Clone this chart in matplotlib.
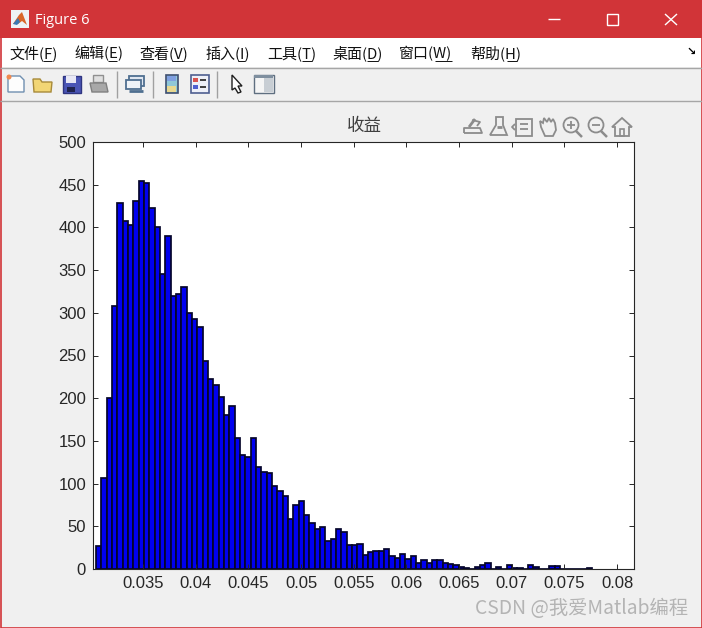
#!/usr/bin/env python3
# -*- coding: utf-8 -*-
"""
Histogram of returns, drawn inside a MATLAB style figure window.
"""
import numpy as np
import matplotlib
matplotlib.use('Agg')
import matplotlib.pyplot as plt
from matplotlib.patches import Rectangle, Polygon, Circle

W, H = 702, 628
CJK = ['Noto Sans CJK SC', 'DejaVu Sans']

##### DATA #####
counts = [27, 106, 200, 308, 428, 408, 403, 431, 454, 452,
          423, 400, 346, 390, 320, 322, 330, 300, 293, 283,
          244, 223, 215, 201, 180, 191, 153, 133, 131, 153,
          120, 113, 112, 97, 91, 85, 59, 75, 80, 63,
          54, 47, 49, 33, 35, 47, 43, 28, 28, 29,
          16, 20, 21, 21, 24, 15, 13, 17, 12, 15,
          7, 10, 7, 10, 10, 7, 6, 5, 2, 1,
          0, 2, 5, 7, 0, 2, 0, 5, 1, 1,
          0, 5, 2, 0, 0, 3, 3, 0, 0, 0,
          0, 0, 1]
bin_start = 0.03054
bin_width = 0.000506
xticks = [0.035, 0.04, 0.045, 0.05, 0.055, 0.06, 0.065, 0.07, 0.075, 0.08]
xticklabels = ['0.035', '0.04', '0.045', '0.05', '0.055', '0.06', '0.065', '0.07', '0.075', '0.08']
yticks = [0, 50, 100, 150, 200, 250, 300, 350, 400, 450, 500]
menu_items = [('文件(F)', 9, 43, 52), ('编辑(E)', 74, 108, 117), ('查看(V)', 139, 172, 183), ('插入(I)', 206, 238, 245),
              ('工具(T)', 267, 302, 312), ('桌面(D)', 332, 367, 378), ('窗口(W)', 399, 435, 452), ('帮助(H)', 470, 507, 517)]
################

fig = plt.figure(figsize=(W/100, H/100), dpi=100, facecolor='#f0f0f0')

# window chrome, coordinates in pixels
ch = fig.add_axes([0, 0, 1, 1], zorder=0)
ch.set_xlim(0, W)
ch.set_ylim(H, 0)
ch.axis('off')

def rect(x, y, w, h, fc='none', ec='none', lw=1.0):
    ch.add_patch(Rectangle((x, y), w, h, facecolor=fc, edgecolor=ec, linewidth=lw))

def line(xs, ys, c='#808080', lw=1.0):
    ch.plot(xs, ys, color=c, linewidth=lw, solid_capstyle='butt')

rect(0, 0, W, 38, fc='#d13438')
rect(0, 38, W, 29, fc='white')
rect(0, 68, W, 32, fc='#f0f0f0')
line([0, W], [67.5, 67.5], '#a6a6a6')
line([0, W], [100.5, 100.5], '#a6a6a6')
rect(0.5, 0.5, W-1, H-1, ec='#d13438', lw=1.2)

# title bar
rect(11, 10, 18, 18, fc='#eef2f6')
ch.add_patch(Polygon([(13, 24), (19, 15), (22, 12), (27, 25), (22, 21), (18, 24)], fc='#d9662b'))
ch.add_patch(Polygon([(13, 24), (18, 18), (20, 22), (17, 25)], fc='#3a78b5'))
ch.text(35, 20, 'Figure 6', color='white', fontsize=10.5, family='Open Sans', va='center')
line([548, 560], [19, 19], 'white')
rect(606.5, 13.5, 11, 11, ec='white')
line([665, 677], [14, 25], 'white')
line([665, 677], [25, 14], 'white')

# menu bar
for label, x, ul_start, ul_end in menu_items:
    ch.text(x, 58, label, fontsize=10.8, family=CJK, va='baseline', color='#111111')
    line([ul_start, ul_end], [61, 61], '#111111', 0.7)
ch.text(691, 52, '↘', fontsize=8, fontweight='bold', family='DejaVu Sans', ha='center', va='center')

# toolbar
for x in [116.5, 152.5, 216.5]:
    line([x, x], [71, 98], '#a0a0a0')
ch.add_patch(Polygon([(8, 76), (20, 76), (24, 80), (24, 92), (8, 92)], fc='#fdfdfd', ec='#6f8fb0', lw=1))
ch.add_patch(Circle((9, 77), 2.5, fc='#f08a50'))
ch.add_patch(Polygon([(33, 79), (40, 79), (42, 82), (52, 82), (51, 92), (34, 92)], fc='#f2d675', ec='#a78a3a', lw=1))
rect(62.5, 75.5, 18, 17, fc='#4a55b5', ec='#2f3580')
rect(66, 76, 10, 7, fc='#e8e8f5')
rect(67, 87, 8, 5, fc='#20244f')
rect(93, 75, 10, 7, fc='#e0e0e0', ec='#909090')
ch.add_patch(Polygon([(90, 83), (106, 83), (108, 92), (92, 92)], fc='#a8a8a8', ec='#808080', lw=1))
rect(128.5, 75.5, 15, 10, fc='#dfe6f0', ec='#4f6f90', lw=1.3)
rect(125.5, 79.5, 15, 9, fc='#eef2f7', ec='#4f6f90', lw=1.3)
line([129, 143], [91, 91], '#4f6f90', 2)
rect(165.5, 74.5, 12, 18, fc='#8fc7d8', ec='#3f4f70', lw=1.2)
rect(167, 76, 9, 5, fc='#7f9fe0')
rect(167, 86, 9, 6, fc='#e8d890')
rect(190.5, 74.5, 18, 18, fc='#eef0f8', ec='#4f5f90', lw=1.2)
rect(193, 78, 5, 4, fc='#d9534f')
rect(193, 85, 5, 4, fc='#5060d0')
line([200, 206], [80, 80], '#303030', 1.3)
line([200, 206], [87, 87], '#303030', 1.3)
ch.add_patch(Polygon([(232, 75), (242, 86), (238, 86), (241, 92), (238, 93), (235, 88), (232, 90)],
                     fc='white', ec='#202020', lw=1))
rect(253.5, 74.5, 20, 18, fc='#f5f5f5', ec='#5f6f80', lw=1)
rect(254, 75, 19, 3, fc='#7f8f9f')
rect(264, 78, 9, 14, fc='#c8ced4')

# axes toolbar icons
g = '#8c8c8c'
line([464, 482, 480, 464, 464], [133, 133, 128, 128, 133], g, 1.3)
line([469, 475], [127, 119], g, 2)
line([472, 480, 477], [120, 122, 126], g, 1.3)
ch.add_patch(Polygon([(496, 117), (503, 117), (503, 125), (507, 135), (490, 135), (496, 125)], fc='none', ec=g, lw=1.3))
line([497, 502], [127, 127], g, 2)
rect(515.5, 118.5, 16, 17, ec=g, lw=1.3)
line([520, 528], [124, 124], g, 1.3)
line([520, 528], [129, 129], g, 1.3)
line([515, 512, 515], [124, 127, 130], g, 1.3)
ch.add_patch(Polygon([(541, 127), (540, 121), (543, 123), (544, 118), (547, 122), (549, 118), (551, 122),
                      (553, 119), (555, 123), (556, 130), (553, 136), (545, 136)], fc='none', ec=g, lw=1.3))
for cx, sign in [(571, '+'), (596, '-')]:
    ch.add_patch(Circle((cx, 125), 7.5, fc='none', ec=g, lw=1.3))
    line([cx+5, cx+11], [131, 137], g, 1.8)
    line([cx-4, cx+4], [125, 125], g, 1.3)
    if sign == '+':
        line([cx, cx], [121, 129], g, 1.3)
ch.add_patch(Polygon([(622, 118), (632, 127), (629, 127), (629, 136), (615, 136), (615, 127), (612, 127)],
                     fc='none', ec=g, lw=1.3))
rect(620, 129, 4, 7, ec=g, lw=1.2)

# watermark
ch.text(475, 609, 'CSDN @我爱Matlab编程', color='#b4b4b4', fontsize=13.9, family=CJK, va='center')

# chart
ax = fig.add_axes([93/W, 1-569/H, (634-93)/W, (569-142)/H], zorder=1)
edges = bin_start + bin_width*np.arange(len(counts))
ax.bar(edges, counts, width=bin_width, align='edge', color='#0000f0', edgecolor='#05052a', linewidth=1.25)
ax.set_xlim(0.03025, 0.0816)
ax.set_ylim(0, 500)
ax.set_xticks(xticks)
ax.set_xticklabels(xticklabels)
ax.set_yticks(yticks)
ax.tick_params(direction='in', length=3.8, width=0.7, top=True, right=True, color='#262626',
               labelcolor='#262626', labelsize=12, pad=5)
for lab in ax.get_xticklabels()+ax.get_yticklabels():
    lab.set_family('Liberation Sans')
for sp in ax.spines.values():
    sp.set_linewidth(0.8)
    sp.set_color('#262626')
ch.text(364, 126, '收益', fontsize=12.6, family=CJK, color='#404040', ha='center', va='center')

fig.savefig('out.png', dpi=100, facecolor=fig.get_facecolor())
